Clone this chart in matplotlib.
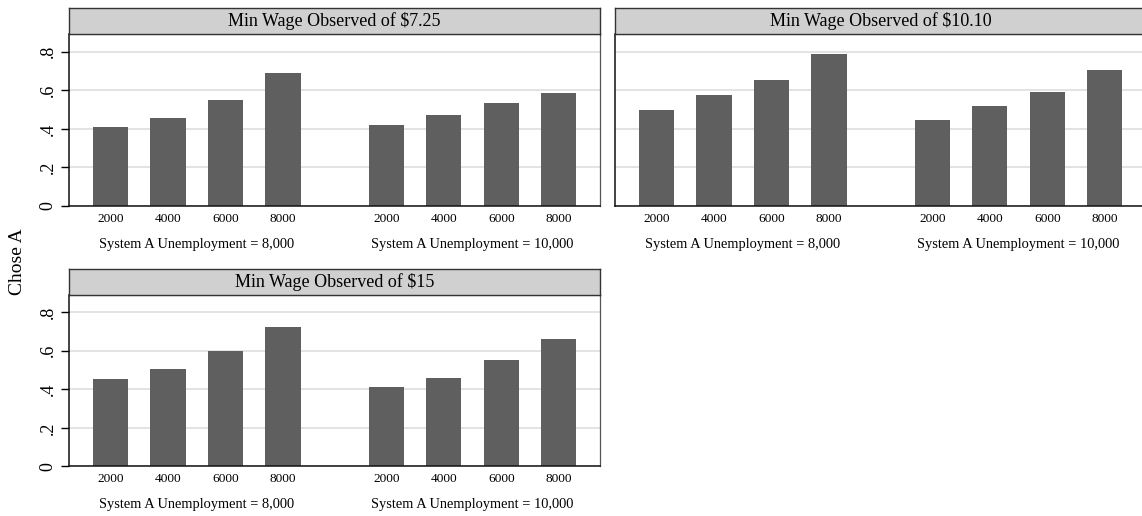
import numpy as np
import matplotlib
matplotlib.use('Agg')
from matplotlib import pyplot as plt

# chart data
categories = ['2000', '4000', '6000', '8000']
groups = ['System A Unemployment = 8,000', 'System A Unemployment = 10,000']
titles = ['Min Wage Observed of $7.25', 'Min Wage Observed of $10.10', 'Min Wage Observed of $15']

wage725_u8000 = [0.411, 0.458, 0.549, 0.691]
wage725_u10000 = [0.421, 0.470, 0.535, 0.587]
wage1010_u8000 = [0.497, 0.575, 0.653, 0.788]
wage1010_u10000 = [0.446, 0.520, 0.589, 0.705]
wage15_u8000 = [0.451, 0.506, 0.597, 0.720]
wage15_u10000 = [0.413, 0.456, 0.553, 0.660]

yticks = [0, 0.2, 0.4, 0.6, 0.8]
ytick_labels = ['0', '.2', '.4', '.6', '.8']

plt.rcParams['font.family'] = ['Liberation Serif', 'DejaVu Serif']

W, H = 1142, 516
fig = plt.figure(figsize=(W / 100, H / 100), dpi=100)

BAR = '#5f5f5f'
GRID = '#dedede'
STRIP = '#d0d0d0'
group_step = 4.8


def panel(left_px, top_px, title, series, show_y):
    ax_w, ax_h = 530.7, 171.7
    strip_h = 26
    ax = fig.add_axes([left_px / W, 1 - (top_px + ax_h) / H, ax_w / W, ax_h / H])
    pos_all = []
    for g, vals in enumerate(series):
        pos = g * group_step + np.arange(len(categories))
        pos_all.extend(pos)
        ax.bar(pos, vals, width=0.615, color=BAR, zorder=2)
        # group label under the tick labels
        ax.annotate(groups[g], xy=(pos.mean(), 0), xycoords=('data', 'axes fraction'),
                    xytext=(0, -27.5), textcoords='offset points',
                    ha='center', va='center', fontsize=10.4)
    ax.set_xticks(pos_all)
    ax.set_xticklabels(categories * len(series), fontsize=9.6)
    ax.tick_params(axis='x', length=0, pad=5)
    ax.set_xlim(-0.72, 8.52)
    ax.set_ylim(0, 0.89)
    ax.set_yticks(yticks)
    ax.grid(axis='y', color=GRID, linewidth=1.2, zorder=0)
    ax.set_axisbelow(True)
    if show_y:
        ax.set_yticklabels(ytick_labels, rotation=90, va='center', fontsize=13)
        ax.tick_params(axis='y', length=6, width=1, pad=3)
    else:
        ax.tick_params(axis='y', length=0, labelleft=False)
    for side in ['left', 'bottom']:
        ax.spines[side].set_color('#111111')
        ax.spines[side].set_linewidth(1.1)
    ax.spines['right'].set_color('#555555')
    ax.spines['right'].set_linewidth(0.9)
    ax.spines['top'].set_color('#333333')

    # title strip
    sax = fig.add_axes([left_px / W, 1 - top_px / H, ax_w / W, strip_h / H])
    sax.set_facecolor(STRIP)
    sax.set_xticks([])
    sax.set_yticks([])
    for s in sax.spines.values():
        s.set_color('#333333')
        s.set_linewidth(1.0)
    sax.text(0.5, 0.5, title, ha='center', va='center', fontsize=13, transform=sax.transAxes)
    return ax


panel(69.3, 34.3, titles[0], [wage725_u8000, wage725_u10000], True)
panel(615.3, 34.3, titles[1], [wage1010_u8000, wage1010_u10000], False)
panel(69.3, 294.7, titles[2], [wage15_u8000, wage15_u10000], True)

fig.text(17 / W, 1 - 262 / H, 'Chose A', rotation=90, ha='center', va='center', fontsize=14)

fig.savefig('out.png', dpi=100)
